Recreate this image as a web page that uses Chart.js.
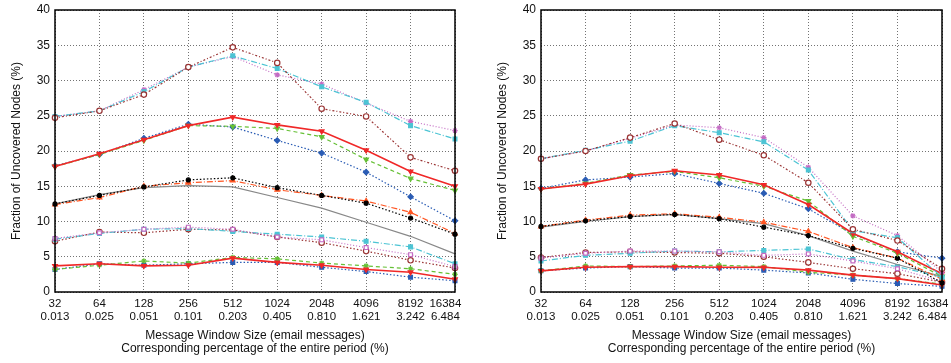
<!DOCTYPE html>
<html>
<head>
<meta charset="utf-8">
<script src="https://cdn.jsdelivr.net/npm/chart.js@4"></script>
<style>
  body { margin: 0; background: #fff; }
  #wrap { position: relative; width: 951px; height: 363px; overflow: hidden; }
  .panel { position: absolute; top: 0; height: 363px; }
  #izq { left: 0; width: 478px; }
  #der { left: 486px; width: 465px; }
</style>
</head>
<body>
<div id="wrap">
  <div class="panel" id="izq"><canvas id="chartIzq"></canvas></div>
  <div class="panel" id="der"><canvas id="chartDer"></canvas></div>
</div>
<script>
// eje x: tamaño de ventana y porcentaje del periodo
const ventanas = ['32', '64', '128', '256', '512', '1024', '2048', '4096', '8192', '16384'];
const porcentajes = ['0.013', '0.025', '0.051', '0.101', '0.203', '0.405', '0.810', '1.621', '3.242', '6.484'];
const yMin = 0, yMax = 40, yPaso = 5;

// panel izquierdo
const izqA_marron  = [24.7, 25.7, 28.0, 31.9, 34.7, 32.5, 26.0, 24.9, 19.1, 17.2];
const izqA_cian    = [24.9, 25.7, 28.4, 31.9, 33.5, 31.7, 29.1, 26.9, 23.6, 21.7];
const izqA_magenta = [24.9, 25.7, 28.7, 31.9, 33.4, 30.8, 29.5, 26.8, 24.2, 22.9];
const izqB_rojo    = [17.8, 19.6, 21.6, 23.6, 24.8, 23.7, 22.8, 20.1, 17.1, 15.0];
const izqB_verde   = [17.8, 19.5, 21.5, 23.6, 23.5, 23.2, 22.0, 18.8, 16.1, 14.4];
const izqB_azul    = [17.9, 19.5, 21.8, 23.8, 23.4, 21.5, 19.7, 17.0, 13.5, 10.1];
const izqC_negro   = [12.5, 13.7, 14.9, 15.9, 16.2, 14.8, 13.7, 12.6, 10.5, 8.2];
const izqC_naranja = [12.4, 13.4, 15.0, 15.5, 15.8, 14.5, 13.7, 12.9, 11.3, 8.3];
const izqC_gris    = [12.5, 13.8, 14.8, 15.1, 14.9, 13.4, 11.9, 9.9, 7.9, 5.4];
const izqD_magenta = [7.6, 8.4, 8.9, 9.2, 8.9, 7.8, 7.4, 6.3, 5.3, 3.6];
const izqD_cian    = [7.5, 8.3, 8.9, 9.0, 8.6, 8.2, 7.8, 7.2, 6.4, 4.0];
const izqD_marron  = [7.2, 8.5, 8.4, 8.9, 8.8, 7.8, 7.0, 5.8, 4.5, 3.4];
const izqE_rojo    = [3.7, 4.0, 3.7, 3.8, 4.8, 4.2, 3.8, 3.2, 2.8, 1.8];
const izqE_verde   = [3.2, 3.8, 4.4, 4.1, 4.9, 4.7, 4.1, 3.7, 3.3, 2.5];
const izqE_azul    = [3.2, 4.0, 3.8, 4.0, 4.2, 4.2, 3.5, 2.9, 2.1, 1.6];

// panel derecho
const derA_marron  = [18.9, 20.0, 21.9, 23.9, 21.6, 19.4, 15.5, 8.9, 7.3, 3.3];
const derA_cian    = [18.9, 20.1, 21.4, 23.6, 22.6, 21.3, 17.3, 8.7, 7.7, 2.1];
const derA_magenta = [18.9, 20.0, 21.8, 23.7, 23.3, 21.9, 17.7, 10.8, 8.0, 2.8];
const derB_rojo    = [14.6, 15.3, 16.5, 17.2, 16.6, 15.2, 12.4, 8.3, 5.7, 2.6];
const derB_verde   = [14.6, 15.4, 16.6, 17.1, 16.2, 15.0, 12.9, 7.9, 5.5, 2.2];
const derB_azul    = [14.7, 15.9, 16.3, 16.8, 15.4, 14.0, 11.8, 8.2, 5.7, 4.8];
const derC_negro   = [9.3, 10.1, 10.7, 11.0, 10.4, 9.2, 8.0, 6.2, 4.8, 1.3];
const derC_naranja = [9.3, 10.2, 10.9, 11.1, 10.6, 9.9, 8.6, 6.3, 4.8, 1.8];
const derC_gris    = [9.2, 10.0, 10.7, 11.0, 10.4, 9.7, 8.0, 5.8, 3.9, 2.2];
const derD_magenta = [4.8, 5.5, 5.8, 5.8, 5.7, 5.2, 5.4, 4.4, 3.3, 1.5];
const derD_cian    = [4.4, 5.2, 5.5, 5.8, 5.7, 5.9, 6.1, 4.6, 3.6, 2.1];
const derD_marron  = [4.9, 5.6, 5.7, 5.6, 5.5, 5.0, 4.2, 3.3, 2.6, 1.4];
const derE_rojo    = [3.0, 3.5, 3.6, 3.6, 3.5, 3.5, 3.1, 2.4, 1.9, 1.0];
const derE_verde   = [3.0, 3.7, 3.6, 3.7, 3.8, 3.6, 2.8, 2.4, 1.9, 1.1];
const derE_azul    = [3.0, 3.4, 3.6, 3.4, 3.4, 3.1, 2.7, 1.8, 1.2, 0.8];

// estilos de cada serie (mismo orden en los dos paneles)
const estilos = [
    { color: '#9a3434', dash: [2, 2, 1, 2], punto: 'circle', relleno: '#fff' },
    { color: '#4cc4d4', dash: [6, 2, 1, 2], punto: 'rect', relleno: null },
    { color: '#c46cc4', dash: [1, 2], punto: 'star', relleno: null },
    { color: '#f02828', dash: [], punto: 'triangle', rot: 180, relleno: null, ancho: 1.6 },
    { color: '#66c036', dash: [4, 3], punto: 'triangle', rot: 180, relleno: null },
    { color: '#2a5cb4', dash: [1.5, 2], punto: 'rectRot', relleno: null },
    { color: '#000000', dash: [1.5, 2], punto: 'circle', relleno: null, radio: 2 },
    { color: '#ff5522', dash: [6, 2, 1, 2], punto: 'triangle', relleno: null },
    { color: '#888888', dash: [], punto: false, relleno: null },
    { color: '#c46cc4', dash: [1, 2], punto: 'rect', relleno: '#fff' },
    { color: '#4cc4d4', dash: [6, 2, 1, 2], punto: 'rect', relleno: null },
    { color: '#9a3434', dash: [1.5, 2], punto: 'circle', relleno: '#fff' },
    { color: '#f02828', dash: [], punto: 'triangle', rot: 180, relleno: null, ancho: 1.6 },
    { color: '#66c036', dash: [4, 3], punto: 'star', relleno: null },
    { color: '#2a5cb4', dash: [1.5, 2], punto: 'rect', relleno: null }
];

const seriesIzq = [izqA_marron, izqA_cian, izqA_magenta, izqB_rojo, izqB_verde, izqB_azul,
    izqC_negro, izqC_naranja, izqC_gris, izqD_magenta, izqD_cian, izqD_marron,
    izqE_rojo, izqE_verde, izqE_azul];
const seriesDer = [derA_marron, derA_cian, derA_magenta, derB_rojo, derB_verde, derB_azul,
    derC_negro, derC_naranja, derC_gris, derD_magenta, derD_cian, derD_marron,
    derE_rojo, derE_verde, derE_azul];

// marco negro alrededor del area de datos
const marco = {
    id: 'marco',
    afterDraw(chart) {
        const { ctx, chartArea: a } = chart;
        ctx.save();
        ctx.strokeStyle = '#000';
        ctx.lineWidth = 1.5;
        ctx.strokeRect(a.left, a.top, a.right - a.left, a.bottom - a.top);
        ctx.restore();
    }
};

// la ultima etiqueta va corrida a la izquierda para que quepa (espacios de cifra)
function etiquetasX() {
    return ventanas.map((v, i) => {
        const relleno = i === ventanas.length - 1 ? '\u2007\u2007\u2007' : '';
        return [v + relleno, porcentajes[i] + relleno];
    });
}

function crearDatasets(series) {
    return series.map((datos, i) => {
        const e = estilos[i];
        return {
            data: datos,
            borderColor: e.color,
            borderWidth: e.ancho || 1.2,
            borderDash: e.dash,
            pointStyle: e.punto,
            pointRotation: e.rot || 0,
            pointRadius: e.punto ? (e.radio || 2.7) : 0,
            pointBorderWidth: 1.2,
            pointBorderColor: e.color,
            pointBackgroundColor: e.relleno || e.color,
            tension: 0,
            fill: false
        };
    });
}

function crearGrafica(id, series, derecha) {
    const ctx = document.getElementById(id).getContext('2d');
    return new Chart(ctx, {
        type: 'line',
        data: {
            labels: etiquetasX(),
            datasets: crearDatasets(series)
        },
        options: {
            responsive: true,
            maintainAspectRatio: false,
            animation: false,
            layout: { padding: { top: 10, right: derecha, bottom: 8, left: 0 } },
            plugins: { legend: { display: false }, tooltip: { enabled: false } },
            scales: {
                x: {
                    type: 'category',
                    offset: false,
                    grid: { color: 'rgba(0,0,0,0.55)', tickLength: 0 },
                    border: { display: false, dash: [1, 2] },
                    ticks: { color: '#111', font: { family: 'Liberation Sans', size: 11.5, lineHeight: 1.15 }, padding: 5, maxRotation: 0, autoSkip: false },
                    title: {
                        display: true,
                        text: ['Message Window Size (email messages)', 'Corresponding percentage of the entire period (%)'],
                        color: '#111',
                        font: { family: 'Liberation Sans', size: 12, lineHeight: 1.1 },
                        padding: { top: 4, bottom: 0 }
                    },
                    afterFit(scale) { scale.height = 63; scale.paddingLeft = 0; scale.paddingRight = 0; }
                },
                y: {
                    min: yMin,
                    max: yMax,
                    grid: { color: 'rgba(0,0,0,0.55)', tickLength: 0 },
                    border: { display: false, dash: [1, 2] },
                    ticks: { stepSize: yPaso, color: '#111', font: { family: 'Liberation Sans', size: 12 }, padding: 5 },
                    title: {
                        display: true,
                        text: 'Fraction of Uncovered Nodes (%)',
                        color: '#111',
                        font: { family: 'Liberation Sans', size: 12 },
                        padding: { top: 9, bottom: 0 }
                    },
                    afterFit(scale) { scale.width = 55; scale.paddingTop = 0; scale.paddingBottom = 0; }
                }
            }
        },
        plugins: [marco]
    });
}

document.addEventListener('DOMContentLoaded', () => {
    crearGrafica('chartIzq', seriesIzq, 23);
    crearGrafica('chartDer', seriesDer, 9);
});
</script>
</body>
</html>
